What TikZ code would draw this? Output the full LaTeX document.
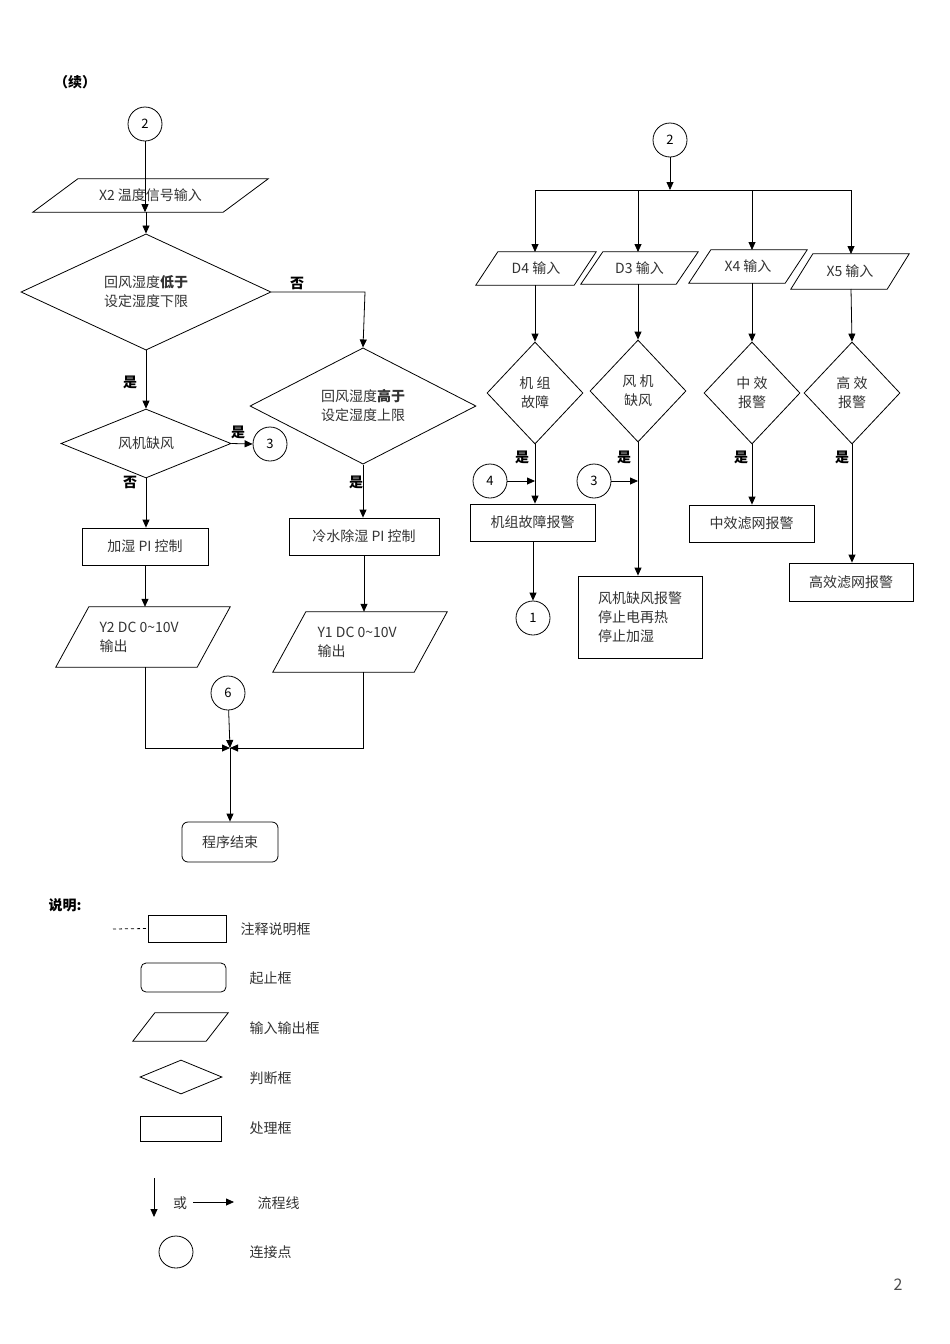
\documentclass[tikz,border=0pt]{standalone}
\usepackage{fontspec}
\setmainfont{Noto Sans CJK SC}
\usetikzlibrary{shapes.geometric,calc,arrows.meta}
\begin{document}
\begin{tikzpicture}[x=1pt,y=-1pt,
  every node/.style={font=\fontsize{14}{19}\selectfont, text=black!80},
  conn/.style={circle,draw,thick,minimum size=34pt,inner sep=0,font=\fontsize{13}{15}\selectfont,text=black},
  dia/.style={diamond,draw,thick,inner sep=0,align=center},
  box/.style={draw,thick,inner sep=0,align=center},
  lbl/.style={font=\fontsize{14}{16}\selectfont\bfseries,text=black},
  pn/.style={inner sep=0,align=left},
  ar/.style={thick,-{Triangle[length=8pt,width=7pt]}},
  ln/.style={thick}]
\newcommand\para[4]{\draw[thick] (#1.south west) -- ($(#1.south east)+(-#2,0)$) -- (#1.north east) -- ($(#1.north west)+(#2,0)$) -- cycle;}
\useasboundingbox (0,0) rectangle (950,1344);
% title
\node[lbl] at (75,82) {（续）};
\node[font=\fontsize{16}{18}\selectfont,text=black!70] at (898,1285) {2};
% left column
\node[conn] (c2a) at (145,124) {2};
\node[pn,minimum width=235pt,minimum height=33pt] (x2) at (150.5,195.5) {};
\node at (x2) {X2 温度信号输入};
\para{x2}{45}{}{}
\node[dia,minimum width=250pt,minimum height=104pt] (d1) at (146,292) {回风湿度\textbf{低于}\\设定湿度下限};
\node[dia,minimum width=226pt,minimum height=104pt] (d2) at (363,406) {回风湿度\textbf{高于}\\设定湿度上限};
\node[dia,minimum width=170pt,minimum height=56pt] (d3) at (146,443.5) {风机缺风};
\node[conn] (c3a) at (270,444) {3};
\node[box,minimum width=126pt,minimum height=37pt] (b1) at (145,546.5) {加湿 PI 控制};
\node[box,minimum width=150pt,minimum height=37pt] (b2) at (364,536.5) {冷水除湿 PI 控制};
\node[pn,minimum width=174pt,minimum height=60pt] (y2) at (143,637) {};
\node[align=left,anchor=west] at (96,637) {Y2 DC 0\textasciitilde10V\\输出};
\para{y2}{33}{}{}
\node[pn,minimum width=174pt,minimum height=60pt] (y1) at (360,642) {};
\node[align=left,anchor=west] at (314,642) {Y1 DC 0\textasciitilde10V\\输出};
\para{y1}{33}{}{}
\node[conn] (c6) at (228,693) {6};
\coordinate (m) at (230,748);
\node[box,rounded corners=6pt,minimum width=96pt,minimum height=40pt] (end) at (230,842) {程序结束};
\draw[ar] (c2a) -- (x2.south -| c2a) ;
\draw[ar] (x2.south -| d1.north) -- (d1.north);
\draw[ar] (d1.east) -- (365,292) -- (d2.north);
\node[lbl] at (297,283) {否};
\draw[ar] (d1.south) -- (d3.north);
\node[lbl] at (130,382) {是};
\draw[ar] (d3.east) -- (c3a.west);
\node[lbl] at (238,432) {是};
\draw[ar] (d3.south) -- (b1.north -| d3.south);
\node[lbl] at (130,482) {否};
\draw[ar] (b1.south) -- (y2.north -| b1.south);
\draw[ar] (d2.south) -- (b2.north -| d2.south);
\node[lbl] at (356,482) {是};
\draw[ar] (b2.south) -- (y1.north -| b2.south);
\draw[ar] (145,667) -- (145,748) -- (m);
\draw[ar] (363,672) -- (363,748) -- (m);
\draw[ar] (c6) -- (m);
\draw[ar] (m) -- (end.north);
% right
\node[conn] (c2b) at (670,140) {2};
\coordinate (bus) at (670,190);
\draw[ar] (c2b) -- (bus);
\draw[ln] (535,190) -- (851,190);
\foreach \n/\x/\y/\w/\h/\t in {p1/536/268.5/120/33/D4 输入, p2/639.5/268/117/32/D3 输入, p3/748/266.5/118/33/X4 输入, p4/850/271.5/118/35/X5 输入}{
  \node[pn,minimum width=\w pt,minimum height=\h pt] (\n) at (\x,\y) {};
  \node at (\n) {\t};
  \para{\n}{22}{}{}
}
\draw[ar] (535,190) -- (535,252);
\draw[ar] (638,190) -- (638,252);
\draw[ar] (752,190) -- (752,250);
\draw[ar] (851,190) -- (851,254);
\node[dia,minimum width=96pt,minimum height=102pt] (q1) at (535,393) {机 组\\故障};
\node[dia,minimum width=96pt,minimum height=102pt] (q2) at (638,391) {风 机\\缺风};
\node[dia,minimum width=96pt,minimum height=102pt] (q3) at (752,393) {中 效\\报警};
\node[dia,minimum width=96pt,minimum height=102pt] (q4) at (852,393) {高 效\\报警};
\draw[ar] (535,285) -- (q1.north);
\draw[ar] (638,284) -- (q2.north);
\draw[ar] (752,283) -- (q3.north);
\draw[ar] (851,289) -- (q4.north);
\node[box,minimum width=125pt,minimum height=37pt] (r1) at (532.5,522.5) {机组故障报警};
\node[box,minimum width=124pt,minimum height=82pt,align=left] (r2) at (640,617) {风机缺风报警\\停止电再热\\停止加湿};
\node[box,minimum width=125pt,minimum height=37pt] (r3) at (751.5,523.5) {中效滤网报警};
\node[box,minimum width=124pt,minimum height=38pt] (r4) at (851,582) {高效滤网报警};
\node[conn] (c4) at (490,481) {4};
\node[conn] (c3b) at (594,481) {3};
\node[conn] (c1) at (533,618) {1};
\draw[ar] (q1.south) -- (r1.north -| q1.south);
\draw[ar] (c4.east) -- (535,481);
\draw[ar] (r1.south -| c1) -- (c1.north);
\draw[ar] (q2.south) -- (r2.north -| q2.south);
\draw[ar] (c3b.east) -- (638,481);
\draw[ar] (q3.south) -- (r3.north -| q3.south);
\draw[ar] (q4.south) -- (r4.north -| q4.south);
\node[lbl] at (522,457) {是};
\node[lbl] at (624,457) {是};
\node[lbl] at (741,457) {是};
\node[lbl] at (842,457) {是};
% legend
\node[lbl,anchor=west] at (45,905) {说明:};
\node[box,minimum width=78pt,minimum height=27pt] (l1) at (187,928.5) {};
\coordinate (l1e) at (113,929);
\draw[thick,dashed] (l1e) -- (l1.west);
\node[anchor=west] at (237,929) {注释说明框};
\node[box,rounded corners=5pt,minimum width=85pt,minimum height=29pt] (l2) at (183.5,977.5) {};
\node[anchor=west] at (246,978) {起止框};
\node[pn,minimum width=95pt,minimum height=28pt] (l3) at (180.5,1027) {};
\para{l3}{22}{}{}
\node[anchor=west] at (246,1028) {输入输出框};
\node[dia,minimum width=82pt,minimum height=34pt] (l4) at (181,1077) {};
\node[anchor=west] at (246,1078) {判断框};
\node[box,minimum width=81pt,minimum height=25pt] (l5) at (180.5,1128.5) {};
\node[anchor=west] at (246,1128) {处理框};
\coordinate (a1) at (154,1178); \coordinate (a2) at (154,1217);
\draw[ar] (a1) -- (a2);
\node at (180,1203) {或};
\coordinate (a3) at (193,1202); \coordinate (a4) at (234,1202);
\draw[ar] (a3) -- (a4);
\node[anchor=west] at (254,1203) {流程线};
\node[ellipse,draw,thick,minimum width=34pt,minimum height=32pt] (l6) at (176,1252) {};
\node[anchor=west] at (246,1252) {连接点};
\end{tikzpicture}
\end{document}
